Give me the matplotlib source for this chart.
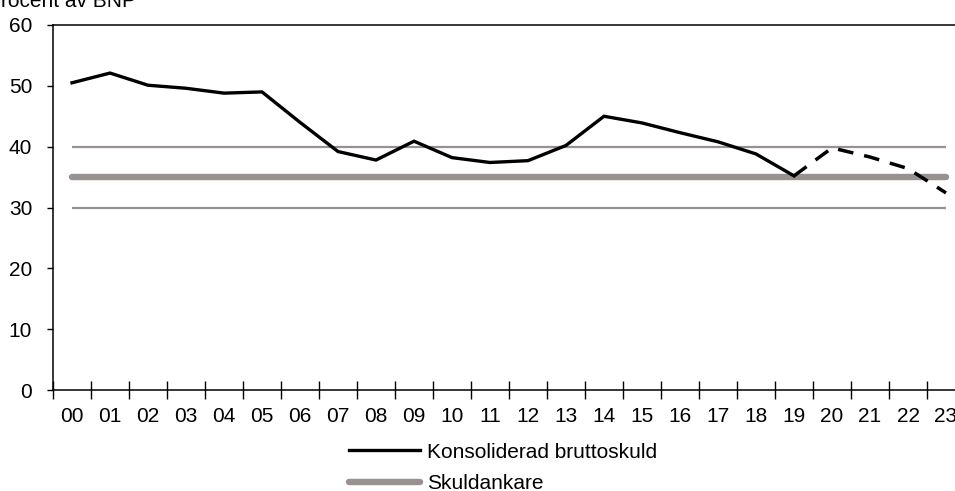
import matplotlib
matplotlib.use('Agg')
import matplotlib.pyplot as plt
from matplotlib.lines import Line2D
import numpy as np

plt.rcParams['font.family'] = ['Liberation Sans', 'DejaVu Sans']

# data
years = ['00', '01', '02', '03', '04', '05', '06', '07', '08', '09', '10', '11',
         '12', '13', '14', '15', '16', '17', '18', '19', '20', '21', '22', '23']
skuld = [50.5, 52.1, 50.1, 49.6, 48.8, 49.0, 44.0, 39.2, 37.8, 40.9, 38.2, 37.4,
         37.7, 40.2, 45.0, 43.9, 42.3, 40.8, 38.8, 35.2]
prognos = [35.2, 39.8, 38.3, 36.4, 32.4]   # 19 -> 23
ankare = 35
intervall = [30, 40]

gray = '#989190'
fs = 15

fig = plt.figure(figsize=(9.55, 4.91), dpi=100)
ax = fig.add_axes([53/955, 1-390/491, 912/955, 365/491])

x = np.arange(len(years))
ax.plot(x[[0, -1]], [intervall[0]]*2, color=gray, lw=1.6, solid_capstyle='butt')
ax.plot(x[[0, -1]], [intervall[1]]*2, color=gray, lw=1.6, solid_capstyle='butt')
ax.plot(x[[0, -1]], [ankare]*2, color=gray, lw=4.6, solid_capstyle='round')
ax.plot(x[:len(skuld)], skuld, color='black', lw=2.4, solid_joinstyle='miter')
ax.plot(x[len(skuld)-1:], prognos, color='black', lw=2.5, dashes=(4.5, 3.2))

ax.set_xlim(-0.5, 23.5)
ax.set_ylim(0, 60)
ax.set_yticks(range(0, 61, 10))
ax.tick_params(axis='y', direction='out', length=4, width=1, pad=11, labelsize=fs)

ax.set_xticks(np.arange(-0.5, 23, 1))
ax.set_xticklabels([])
ax.set_xticks(x, minor=True)
ax.set_xticklabels(years, minor=True)
ax.tick_params(axis='x', which='major', direction='inout', length=13, width=1)
ax.tick_params(axis='x', which='minor', length=0, pad=12, labelsize=fs)

for s in ['left', 'bottom', 'top']:
    ax.spines[s].set_linewidth(1.1)
ax.spines['right'].set_visible(False)

fig.text(-13/955, 1-7/491, 'Procent av BNP', fontsize=fs, va='baseline', ha='left')

handles = [Line2D([], [], color='black', lw=2.4),
           Line2D([], [], color=gray, lw=4.6, solid_capstyle='round')]
fig.legend(handles, ['Konsoliderad bruttoskuld', 'Skuldankare'],
           loc='center left', bbox_to_anchor=(349/955, 1-468/491),
           frameon=False, fontsize=fs, handlelength=3.4, handletextpad=0.33,
           labelspacing=0.6, borderpad=0, borderaxespad=0)

fig.savefig('out.png', dpi=100)
